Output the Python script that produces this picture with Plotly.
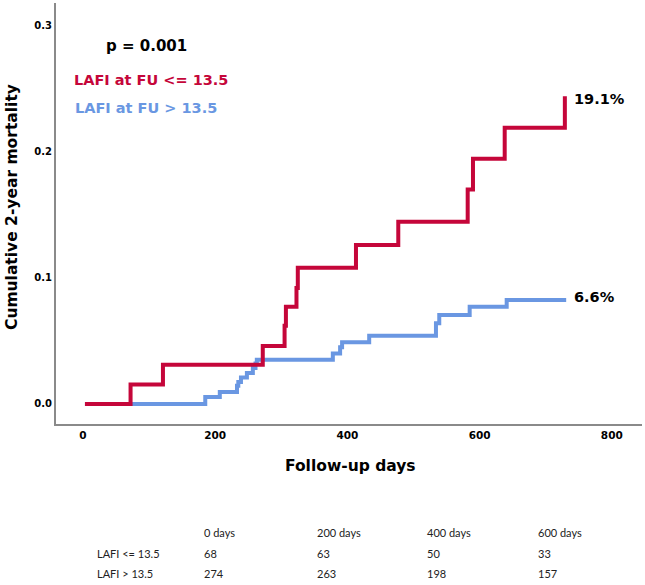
import plotly.graph_objects as go

# Kaplan-Meier cumulative mortality
red_days = [3, 72, 121, 272, 305, 307, 323, 325, 413, 477, 582, 590, 638, 729]
red_vals = [0.0, 0.0155, 0.031, 0.046, 0.062, 0.077, 0.092, 0.108, 0.126, 0.1445, 0.170, 0.1945, 0.219, 0.244]

blue_days = [3, 185, 207, 233, 235, 239, 248, 257, 261, 263, 378, 389, 392, 433, 534, 539, 585, 641, 731]
blue_vals = [0.0, 0.0055, 0.0095, 0.0145, 0.0175, 0.021, 0.0245, 0.0285, 0.032, 0.035, 0.040, 0.045, 0.049,
             0.054, 0.064, 0.0705, 0.077, 0.0825, 0.0825]

x_ticks = [0, 200, 400, 600, 800]
y_ticks = [0.0, 0.1, 0.2, 0.3]

red_label = "LAFI at FU <= 13.5"
blue_label = "LAFI at FU > 13.5"
p_text = "p = 0.001"
red_end_label = "19.1%"
blue_end_label = "6.6%"

table_header = ["0 days", "200 days", "400 days", "600 days"]
table_rows = ["LAFI <= 13.5", "LAFI > 13.5"]
table_red = [68, 63, 50, 33]
table_blue = [274, 263, 198, 157]

RED = "#C5063A"
BLUE = "#6A97E2"

fig = go.Figure()
fig.add_trace(go.Scatter(x=blue_days, y=blue_vals, mode="lines", line=dict(color=BLUE, width=4, shape="hv"),
                         showlegend=False, hoverinfo="skip"))
fig.add_trace(go.Scatter(x=red_days, y=red_vals, mode="lines", line=dict(color=RED, width=4, shape="hv"),
                         showlegend=False, hoverinfo="skip"))

W, H = 645, 585
L, R, T, B = 56, 3, 3, 161
pw, ph = W - L - R, H - T - B

def px(xp):
    return (xp - L) / pw

def py(yp):
    return (H - B - yp) / ph

ann = []
FAM = "DejaVu Sans"
bold = dict(family=FAM, weight="bold")
ann.append(dict(text=p_text, x=px(104), y=py(46), xanchor="left", yanchor="middle",
                font=dict(size=15, color="black", **bold)))
ann.append(dict(text=red_label, x=px(72), y=py(80), xanchor="left", yanchor="middle",
                font=dict(size=14.5, color=RED, **bold)))
ann.append(dict(text=blue_label, x=px(73), y=py(108), xanchor="left", yanchor="middle",
                font=dict(size=14.5, color=BLUE, **bold)))
ann.append(dict(text=red_end_label, x=px(572), y=py(99), xanchor="left", yanchor="middle",
                font=dict(size=14.5, color="black", **bold)))
ann.append(dict(text=blue_end_label, x=px(572), y=py(297), xanchor="left", yanchor="middle",
                font=dict(size=14.5, color="black", **bold)))
# axis titles
ann.append(dict(text="Cumulative 2-year mortality", x=px(12), y=py(207), textangle=-90,
                xanchor="center", yanchor="middle", font=dict(size=15.5, color="black", **bold)))
ann.append(dict(text="Follow-up days", x=px(350), y=py(466), xanchor="center", yanchor="middle",
                font=dict(size=15.5, color="black", **bold)))

# risk table
col_x = [202, 315, 425, 536]
tfont = dict(family="Lato", size=11, color="#222")
for cx, h in zip(col_x, table_header):
    ann.append(dict(text=h, x=px(cx), y=py(532), xanchor="left", yanchor="middle", font=tfont))
ann.append(dict(text=table_rows[0], x=px(95), y=py(553), xanchor="left", yanchor="middle", font=tfont))
ann.append(dict(text=table_rows[1], x=px(95), y=py(573), xanchor="left", yanchor="middle", font=tfont))
for cx, v in zip(col_x, table_red):
    ann.append(dict(text=str(v), x=px(cx), y=py(553), xanchor="left", yanchor="middle", font=tfont))
for cx, v in zip(col_x, table_blue):
    ann.append(dict(text=str(v), x=px(cx), y=py(573), xanchor="left", yanchor="middle", font=tfont))

for a in ann:
    a.update(xref="paper", yref="paper", showarrow=False)

fig.update_layout(
    width=W, height=H,
    margin=dict(l=L, r=R, t=T, b=B),
    plot_bgcolor="white", paper_bgcolor="white",
    annotations=ann,
    xaxis=dict(range=[-40.8, 845.7], tickvals=x_ticks, showgrid=False, zeroline=False,
               showline=True, linecolor="#8a8a8a", linewidth=2, ticks="",
               tickfont=dict(family=FAM, size=10.5, color="black", weight="bold")),
    yaxis=dict(range=[-0.0159, 0.318], tickvals=y_ticks, tickformat=".1f", showgrid=False, zeroline=False,
               showline=True, linecolor="#8a8a8a", linewidth=2, ticks="",
               tickfont=dict(family=FAM, size=10, color="black", weight="bold")),
)

fig.write_html("out.html", config={"displayModeBar": False},
               post_script="document.body.style.margin='0px';document.body.style.overflow='hidden';")
